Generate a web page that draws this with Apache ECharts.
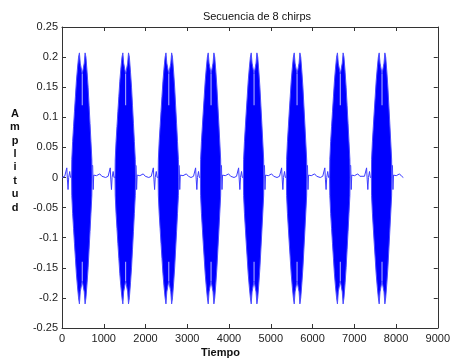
<!DOCTYPE html>
<html>
<head>
<meta charset="utf-8">
<script src="https://cdn.jsdelivr.net/npm/echarts@6/dist/echarts.min.js"></script>
<style>
html,body{margin:0;padding:0;background:#fff;}
#chart{width:453px;height:360px;}
</style>
</head>
<body>
<div id="chart"></div>
<script>
// Values
var titleText = 'Secuencia de 8 chirps';
var xName = 'Tiempo';
var yName = 'Amplitud';
var xTicks = [0, 1000, 2000, 3000, 4000, 5000, 6000, 7000, 8000, 9000];
var yTicks = [-0.25, -0.2, -0.15, -0.1, -0.05, 0, 0.05, 0.1, 0.15, 0.2, 0.25];

// centre of each of the 8 chirp bursts (sample index)
var burstCenters = [485, 1525, 2558, 3570, 4600, 5630, 6665, 7665];
// burst envelope, offsets from the burst centre and amplitude
var envOffsets = [-255, -250, -230, -208, -186, -163, -140, -116, -88, -68, -48, 0, 48, 68, 88, 116, 140, 163, 186, 208, 230, 235];
var envUpper   = [0.0, 0.03, 0.06, 0.085, 0.11, 0.135, 0.16, 0.18, 0.2, 0.207, 0.19, 0.172, 0.19, 0.207, 0.2, 0.175, 0.15, 0.12, 0.09, 0.06, 0.03, 0.0];
var envLower   = [0.0, -0.03, -0.06, -0.085, -0.11, -0.135, -0.16, -0.18, -0.2, -0.21, -0.19, -0.172, -0.19, -0.21, -0.2, -0.175, -0.15, -0.12, -0.09, -0.06, -0.03, 0.0];
// light notch between the two peaks of each burst
var notchUpper = [0.172, 0.12];
var notchLower = [-0.172, -0.14];
// low level ripple around each burst, offsets from the burst centre
var rippleOffsets = [-480, -420, -400, -385, -370, -355, -340, -325, -300, -280, 250, 262, 275, 290, 310, 340, 380, 420, 470, 510];
var rippleValues  = [0.0, 0.002, 0.005, 0.0, 0.016, -0.004, -0.02, 0.0, 0.01, 0.0, 0.02, -0.02, 0.004, 0.006, 0.004, 0.003, 0.004, 0.006, 0.002, 0.0];
var rippleStart = 0;
var rippleEnd = 8190;

var rippleData = [[rippleStart, 0]];
burstCenters.forEach(function (c) {
  for (var i = 0; i < rippleOffsets.length; i++) {
    var x = c + rippleOffsets[i];
    if (x > rippleStart && x < rippleEnd) rippleData.push([x, rippleValues[i]]);
  }
});
rippleData.push([rippleEnd, 0]);

var chart = echarts.init(document.getElementById('chart'), null, {renderer: 'canvas'});
var font = '"Liberation Sans", Arial, sans-serif';
var axisColor = '#333333';

function fmtY(v) {
  return (Math.round(v * 100) / 100).toString();
}
function fmtX(v) {
  return String(Math.round(v));
}

var option = {
  animation: false,
  backgroundColor: '#ffffff',
  title: {
    text: titleText,
    left: 252, top: 6, textAlign: 'center',
    textStyle: {fontFamily: font, fontSize: 11, fontWeight: 'normal', color: '#111'}
  },
  grid: {left: 62, right: 10, top: 27, bottom: 32, containLabel: false},
  xAxis: [{
    type: 'value', min: xTicks[0], max: xTicks[xTicks.length - 1], interval: 1000,
    position: 'bottom',
    axisLine: {onZero: false, lineStyle: {color: axisColor, width: 1}},
    axisTick: {inside: true, length: 4, lineStyle: {color: axisColor}},
    axisLabel: {fontFamily: font, fontSize: 11, color: '#222', margin: 5, formatter: fmtX},
    splitLine: {show: false}
  }, {
    type: 'value', min: xTicks[0], max: xTicks[xTicks.length - 1], interval: 1000,
    position: 'top',
    axisLine: {onZero: false, lineStyle: {color: axisColor, width: 1}},
    axisTick: {inside: true, length: 4, lineStyle: {color: axisColor}},
    axisLabel: {show: false},
    splitLine: {show: false}
  }],
  yAxis: [{
    type: 'value', min: yTicks[0], max: yTicks[yTicks.length - 1], interval: 0.05,
    position: 'left',
    axisLine: {onZero: false, lineStyle: {color: axisColor, width: 1}},
    axisTick: {inside: true, length: 4, lineStyle: {color: axisColor}},
    axisLabel: {fontFamily: font, fontSize: 11, color: '#222', margin: 4, formatter: fmtY},
    splitLine: {show: false}
  }, {
    type: 'value', min: yTicks[0], max: yTicks[yTicks.length - 1], interval: 0.05,
    position: 'right',
    axisLine: {onZero: false, lineStyle: {color: axisColor, width: 1}},
    axisTick: {inside: true, length: 4, lineStyle: {color: axisColor}},
    axisLabel: {show: false},
    splitLine: {show: false}
  }],
  graphic: [{
    type: 'text', left: 201, top: 347,
    style: {text: xName, fontFamily: font, fontSize: 11, fontWeight: 'bold', fill: '#111'}
  }, {
    type: 'text', x: 15, y: 107,
    style: {text: yName.split('').join('\n'), fontFamily: font, fontSize: 11, fontWeight: 'bold',
            fill: '#111', align: 'center', lineHeight: 13.4}
  }],
  series: [{
    type: 'line',
    data: rippleData,
    showSymbol: false,
    lineStyle: {color: '#3b3bff', width: 1},
    z: 2
  }, {
    type: 'custom',
    data: burstCenters.map(function (c) { return [c]; }),
    encode: {x: 0},
    z: 3,
    renderItem: function (params, api) {
      var c = api.value(0);
      var pts = [];
      for (var i = 0; i < envOffsets.length; i++) pts.push(api.coord([c + envOffsets[i], envUpper[i]]));
      for (var j = envOffsets.length - 1; j >= 0; j--) pts.push(api.coord([c + envOffsets[j], envLower[j]]));
      var nu0 = api.coord([c, notchUpper[0]]), nu1 = api.coord([c, notchUpper[1]]);
      var nl0 = api.coord([c, notchLower[0]]), nl1 = api.coord([c, notchLower[1]]);
      return {
        type: 'group',
        children: [{
          type: 'polygon',
          shape: {points: pts},
          style: {fill: '#0000ff', stroke: '#4c4cff', lineWidth: 1}
        }, {
          type: 'line',
          shape: {x1: nu0[0], y1: nu0[1], x2: nu1[0], y2: nu1[1]},
          style: {stroke: '#b8b8ff', lineWidth: 1}
        }, {
          type: 'line',
          shape: {x1: nl0[0], y1: nl0[1], x2: nl1[0], y2: nl1[1]},
          style: {stroke: '#b8b8ff', lineWidth: 1}
        }]
      };
    }
  }]
};
chart.setOption(option);
</script>
</body>
</html>
